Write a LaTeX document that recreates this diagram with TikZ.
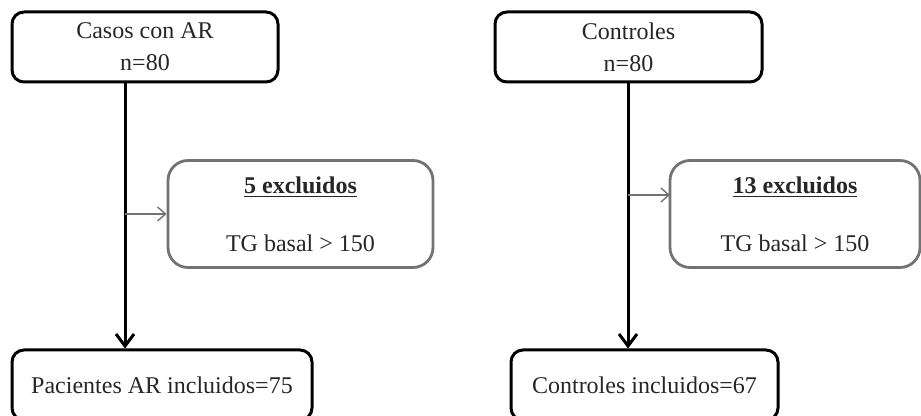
\documentclass[tikz,border=0pt]{standalone}
\usepackage{fontspec}
\setmainfont{Liberation Serif}
\usetikzlibrary{arrows.meta, positioning, calc}

\tikzset{
  mainbox/.style={draw=black, line width=1.5pt, rounded corners=6pt, text=black!85, align=center, font=\fontsize{12}{16}\selectfont},
  exclbox/.style={draw=black!55, line width=1.4pt, rounded corners=10pt, text=black!85, align=center, font=\fontsize{12}{15}\selectfont},
  flow/.style={line width=1.5pt, -{Straight Barb[length=6pt, width=9pt, line width=1.5pt]}},
  side/.style={draw=black!55, line width=0.7pt, -{Straight Barb[length=4pt, width=7pt, line width=0.7pt]}}
}

\begin{document}
\begin{tikzpicture}[x=0.5pt, y=-0.5pt]

    \clip (0,0) rectangle (921,416);

    % casos
    \node[mainbox, minimum width=133pt, minimum height=35pt] (casos) at (145,47) {Casos con AR\\n=80};
    \node[exclbox, minimum width=132.5pt, minimum height=53.5pt] (excl1) at (300.5,214) {\underline{\textbf{5 excluidos}}\\[14pt]TG basal > 150};
    \node[mainbox, minimum width=150pt, minimum height=35pt] (incl1) at (162,385) {Pacientes AR incluidos=75};

    % controles
    \node[mainbox, minimum width=133.5pt, minimum height=35pt] (controles) at (628.5,47) {Controles\\n=80};
    \node[exclbox, minimum width=125pt, minimum height=53.5pt] (excl2) at (795,214) {\underline{\textbf{13 excluidos}}\\[14pt]TG basal > 150};
    \node[mainbox, minimum width=133.5pt, minimum height=35pt] (incl2) at (644.5,385) {Controles incluidos=67};

    \coordinate (s1) at (125,83);
    \coordinate (s2) at (628,83);
    \coordinate (a2) at (670,195);

    \draw[flow] (s1) -- (s1 |- incl1.north);
    \draw[flow] (s2) -- (s2 |- incl2.north);
    \draw[side] (s1 |- excl1.west) -- (excl1.west);
    \draw[side] (s2 |- a2) -- (a2);

\end{tikzpicture}
\end{document}
